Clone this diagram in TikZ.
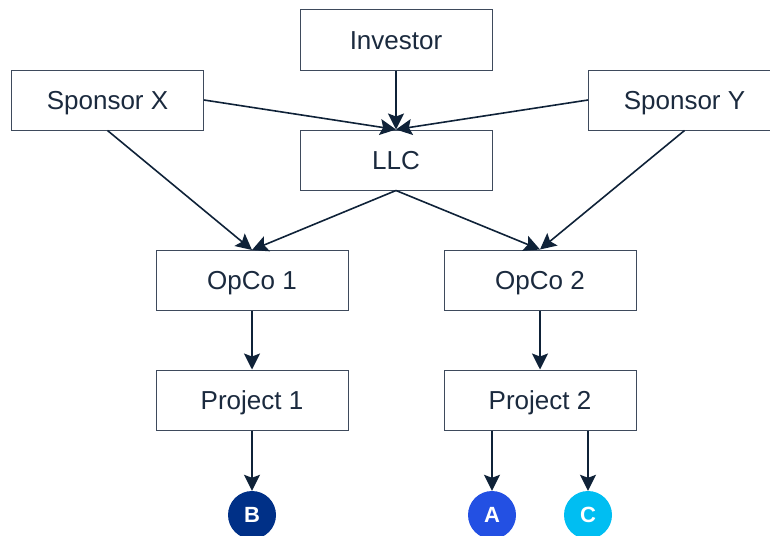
\documentclass[tikz,border=0pt]{standalone}
\usepackage{fontspec}
\setmainfont{Liberation Sans}
\usetikzlibrary{arrows.meta}
\definecolor{boxline}{HTML}{3E4A5C}
\definecolor{txt}{HTML}{1B2A3E}
\definecolor{arr}{HTML}{0F2238}
\definecolor{cB}{HTML}{003087}
\definecolor{cA}{HTML}{2350E3}
\definecolor{cC}{HTML}{00BEF2}
\tikzset{
  entity/.style={draw=boxline, line width=1pt, fill=white, minimum width=192pt, minimum height=60pt, inner sep=0pt, text height=20pt, text depth=1.4pt, text=txt, font=\fontsize{26}{30}\selectfont},
  badge/.style={circle, minimum size=48pt, inner sep=0pt, text=white, font=\fontsize{22}{26}\selectfont\bfseries},
  link/.style={draw=arr, line width=1.6pt, -{Stealth[length=16pt, width=16pt, inset=3pt]}}
}
\begin{document}
\begin{tikzpicture}[x=1pt, y=-1pt]
\useasboundingbox (0,0) rectangle (770,535);
\clip (0,0) rectangle (770,535);
\node[entity] (inv) at (396,40) {Investor};
\node[entity] (llc) at (396,160) {LLC};
\node[entity] (spx) at (107.5,100) {Sponsor X};
\node[entity] (spy) at (684.5,100) {Sponsor Y};
\node[entity] (op1) at (252,280.5) {OpCo 1};
\node[entity] (op2) at (540,280) {OpCo 2};
\node[entity] (pr1) at (252,400) {Project 1};
\node[entity] (pr2) at (540,400) {Project 2};
\node[badge, fill=cB] (b) at (252,515) {B};
\node[badge, fill=cA] (a) at (492,515) {A};
\node[badge, fill=cC] (c) at (588,515) {C};
\draw[link] (inv.south) -- (llc.north);
\draw[link] (spx.east) -- (llc.north);
\draw[link] (spy.west) -- (llc.north);
\draw[link] (spx.south) -- (op1.north);
\draw[link] (llc.south) -- (op1.north);
\draw[link] (llc.south) -- (op2.north);
\draw[link] (spy.south) -- (op2.north);
\draw[link] (op1.south) -- (pr1.north);
\draw[link] (op2.south) -- (pr2.north);
\draw[link] (pr1.south) -- (b.north);
\draw[link] (pr2.south -| a) -- (a.north);
\draw[link] (pr2.south -| c) -- (c.north);
\end{tikzpicture}
\end{document}
